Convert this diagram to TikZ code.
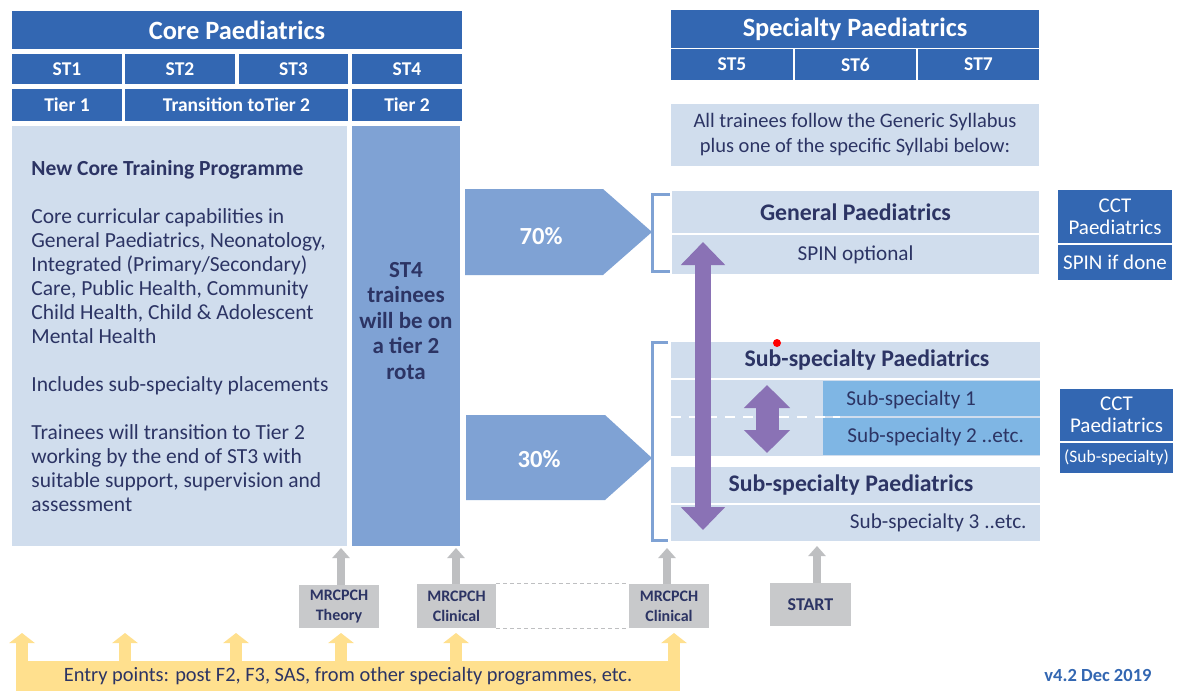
\documentclass[tikz,border=0pt]{standalone}
\usepackage{fontspec}
\setmainfont{Carlito}
\usetikzlibrary{arrows.meta}

\definecolor{hdrblue}{RGB}{51,103,178}
\definecolor{paleblue}{RGB}{208,221,237}
\definecolor{midblue}{RGB}{127,162,212}
\definecolor{skyblue}{RGB}{127,182,228}
\definecolor{rcpurple}{RGB}{138,114,181}
\definecolor{greyfill}{RGB}{200,201,203}
\definecolor{greyline}{RGB}{190,191,193}
\definecolor{entryyellow}{RGB}{255,224,142}
\definecolor{navytext}{RGB}{44,52,100}

\tikzset{
  wh/.style 2 args={minimum width=#1*0.5pt, minimum height=#2*0.5pt},
  hdr/.style={fill=hdrblue, text=white, inner sep=0pt, font=\bfseries\fontsize{9.75}{11}\selectfont},
  hdrtitle/.style={hdr, font=\bfseries\fontsize{13.2}{15}\selectfont},
  pale/.style={fill=paleblue, text=navytext, inner sep=0pt},
  subhead/.style={text=navytext, inner sep=0pt, font=\bfseries\fontsize{11.9}{14}\selectfont},
  subtext/.style={text=navytext, inner sep=0pt, font=\fontsize{10.6}{12}\selectfont},
  cct/.style={fill=hdrblue, text=white, inner sep=0pt, align=center, font=\fontsize{10.5}{11}\selectfont},
  greybox/.style={fill=greyfill, text=navytext, inner sep=0pt, align=center, font=\bfseries\fontsize{8}{10}\selectfont},
  greyarrow/.style={draw=greyline, line width=4pt, -{Triangle[width=8.5pt,length=5pt]}},
  greydash/.style={draw=greyline, line width=0.6pt, dash pattern=on 2pt off 1.5pt},
  entryarrow/.style={draw=entryyellow, line width=6pt, -{Triangle[width=12.5pt,length=5pt]}},
  bigswap/.style={draw=rcpurple, line width=8pt, {Triangle[width=21.5pt,length=11.5pt]}-{Triangle[width=21.5pt,length=11.5pt]}},
  smallswap/.style={draw=rcpurple, line width=11.5pt, {Triangle[width=22.5pt,length=11.5pt]}-{Triangle[width=22.5pt,length=11.5pt]}},
  bracket/.style={draw=midblue, line width=1.5pt},
  pcttext/.style={text=white, font=\bfseries\fontsize{12.3}{14}\selectfont}
}

\begin{document}
\begin{tikzpicture}[x=0.5pt,y=-0.5pt]
  \path[use as bounding box, fill=white] (0,0) rectangle (1179,691);

  % core paediatrics
  \node[hdrtitle, wh={450}{38}] (core) at (237,30) {Core Paediatrics};
  \node[hdr, wh={110}{30}] (st1) at (67,69) {ST1};
  \node[hdr, wh={110}{30}] (st2) at (180,69) {ST2};
  \node[hdr, wh={109}{30}] (st3) at (293.5,69) {ST3};
  \node[hdr, wh={110}{30}] (st4) at (407,69) {ST4};
  \node[hdr, wh={110}{32}] (tier1) at (67,105) {Tier 1};
  \node[hdr, wh={223}{32}] (trans) at (236.5,105) {Transition toTier 2};
  \node[hdr, wh={110}{32}] (tier2) at (407,105) {Tier 2};

  \node[pale, wh={335}{420}] (corebox) at (179.5,336) {};
  \node[text=navytext, inner sep=0pt, anchor=north west, align=left, font=\fontsize{10.75}{12}\selectfont] (coretext) at (31,160)
    {\textbf{New Core Training Programme}\\[12pt]
     Core curricular capabilities in\\
     General Paediatrics, Neonatology,\\
     Integrated (Primary/Secondary)\\
     Care, Public Health, Community\\
     Child Health, Child \& Adolescent\\
     Mental Health\\[12pt]
     Includes sub-specialty placements\\[12pt]
     Trainees will transition to Tier 2\\
     working by the end of ST3 with\\
     suitable support, supervision and\\
     assessment};

  \node[fill=midblue, inner sep=0pt, wh={108}{420}] (st4col) at (406,336) {};
  \node[text=navytext, inner sep=0pt, anchor=north, align=center, font=\bfseries\fontsize{11.5}{12.75}\selectfont] (st4text) at (406,262)
    {ST4\\trainees\\will be on\\a tier 2\\rota};

  % split arrows
  \fill[midblue] (465,189) -- (603,189) -- (652,232) -- (603,275) -- (465,275) -- cycle;
  \node[pcttext] (p70) at (541,236) {70\%};
  \fill[midblue] (466,415) -- (605,415) -- (652,458) -- (605,500) -- (466,500) -- cycle;
  \node[pcttext] (p30) at (539,459) {30\%};

  \draw[bracket] (670,194) -- (652,194) -- (652,271) -- (670,271);
  \draw[bracket] (668,342) -- (652,342) -- (652,540) -- (668,540);

  % specialty paediatrics
  \node[hdrtitle, wh={368}{38}] (spec) at (855,29) {Specialty Paediatrics};
  \node[hdr, wh={122}{31}] (st5) at (732,64.5) {ST5};
  \node[hdr, wh={121}{31}] (st6) at (855.5,64.5) {ST6};
  \node[hdr, wh={121}{31}] (st7) at (978.5,64.5) {ST7};
  \node[pale, wh={368}{62}, align=center, font=\fontsize{10.25}{12.5}\selectfont] (syllabus) at (855,135)
    {All trainees follow the Generic Syllabus\\plus one of the specific Syllabi below:};

  \node[pale, wh={367}{42}, font=\bfseries\fontsize{11.9}{14}\selectfont] (genpaed) at (855.5,212) {General Paediatrics};
  \node[pale, wh={367}{39}, font=\fontsize{10.6}{12}\selectfont] (spinopt) at (855.5,254.5) {SPIN optional};
  \node[cct, wh={114}{53}] (cctgen) at (1115,216.5) {CCT\\Paediatrics};
  \node[cct, wh={114}{35}] (spinif) at (1115,262.5) {SPIN if done};

  \node[pale, wh={369}{36}] (subpaed) at (855.5,360) {};
  \node[subhead] (subpaedtxt) at (867,360) {Sub-specialty Paediatrics};
  \node[pale, wh={369}{76}] (subrow) at (855.5,418) {};
  \node[fill=skyblue, inner sep=0pt, wh={217}{35}] (ss1) at (931.5,398.5) {};
  \node[fill=skyblue, inner sep=0pt, wh={217}{37}] (ss2) at (931.5,436.5) {};
  \node[subtext, anchor=west] (ss1txt) at (846,400) {Sub-specialty 1};
  \node[subtext, anchor=west] (ss2txt) at (847,437) {Sub-specialty 2 ..etc.};
  \draw[white, line width=1pt, dash pattern=on 5pt off 4pt] (671,417) -- (840,417);

  \node[pale, wh={369}{36}] (subpaedb) at (855.5,485) {};
  \node[subhead] (subpaedbtxt) at (851,485) {Sub-specialty Paediatrics};
  \node[pale, wh={369}{36}] (ss3row) at (855.5,523) {};
  \node[subtext, anchor=east] (ss3txt) at (1027,523) {Sub-specialty 3 ..etc.};

  \node[cct, wh={113}{52}] (cctsub) at (1116.5,415) {CCT\\Paediatrics};
  \node[cct, wh={113}{30}, font=\fontsize{8.75}{10}\selectfont] (subnote) at (1116.5,458) {(Sub-specialty)};

  % moving between programmes
  \coordinate (gtop) at (703,242);
  \coordinate (gbot) at (703,530);
  \draw[bigswap] (gtop) -- (gbot);
  \coordinate (stop) at (767,385);
  \coordinate (sbot) at (767,453);
  \draw[smallswap] (stop) -- (sbot);

  \fill[red] (777,343) circle (2pt);

  % exams
  \node[greybox, wh={80}{43}] (theory) at (339,606.5) {MRCPCH\\Theory};
  \node[greybox, wh={79}{44}] (clina) at (456.5,606) {MRCPCH\\Clinical};
  \node[greybox, wh={80}{44}] (clinb) at (669,606) {MRCPCH\\Clinical};
  \node[greybox, wh={81}{43}, font=\bfseries\fontsize{9}{10}\selectfont] (start) at (810.5,604.5) {START};

  \coordinate (theorytip) at (341,548);
  \coordinate (clinatip) at (456,548);
  \coordinate (clinbtip) at (667,548);
  \coordinate (starttip) at (817,546);
  \draw[greyarrow] (theory.north -| theorytip) -- (theorytip);
  \draw[greyarrow] (clina.north -| clinatip) -- (clinatip);
  \draw[greyarrow] (clinb.north -| clinbtip) -- (clinbtip);
  \draw[greyarrow] (start.north -| starttip) -- (starttip);
  \draw[greydash] (clina.north east) -- (clinb.north west);
  \draw[greydash] (clina.south east) -- (clinb.south west);

  % entry points
  \node[fill=entryyellow, inner sep=0pt, wh={664}{30}, text=navytext, font=\fontsize{10.2}{12}\selectfont] (entry) at (348,676)
    {Entry points: post F2, F3, SAS, from other specialty programmes, etc.};
  \foreach \x [count=\i] in {22,125,236,341,456,674} {
    \coordinate (ep\i) at (\x,633);
    \draw[entryarrow] (entry.north -| ep\i) -- (ep\i);
  }

  \node[text=hdrblue, font=\bfseries\fontsize{9.25}{11}\selectfont] (version) at (1098,675) {v4.2 Dec 2019};
\end{tikzpicture}
\end{document}
